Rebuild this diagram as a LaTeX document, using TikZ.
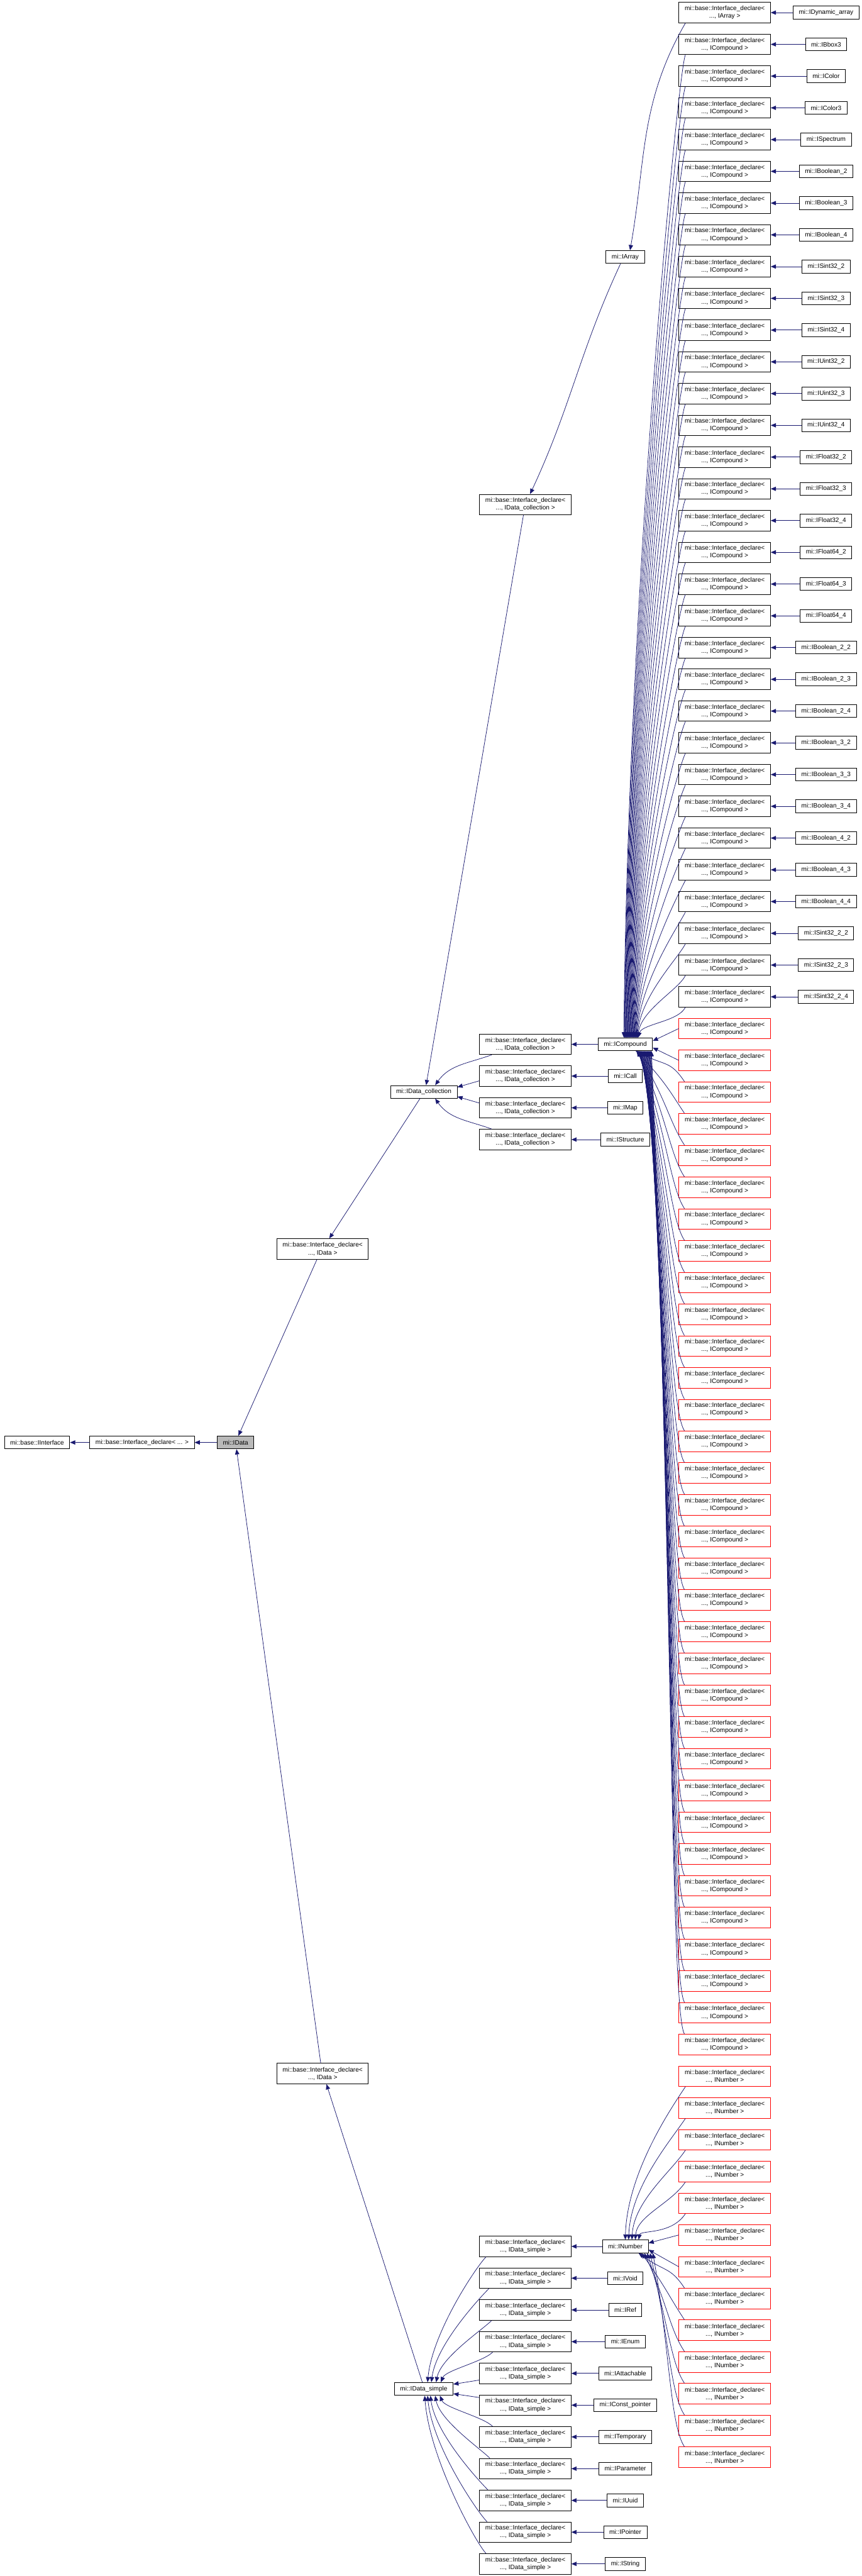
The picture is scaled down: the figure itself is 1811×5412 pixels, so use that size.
\documentclass[tikz,border=0pt]{standalone}
\usepackage{fontspec}
\setmainfont{Liberation Sans}
\usetikzlibrary{arrows.meta,positioning}
\definecolor{edgeblue}{HTML}{191970}
% one unit = one pixel of the graph, drawn at a tenth of a point
\tikzset{
  cls/.style={draw=black,line width=0.12pt,inner xsep=1.2pt,inner ysep=0pt,
    minimum height=2.7pt,font=\fontsize{1.33}{1.6}\selectfont,align=center},
  tmpl/.style={cls,minimum height=4.3pt},
  undoc/.style={tmpl,draw=red},
  inh/.style={edgeblue,line width=0.1pt,-{Triangle[length=1.1pt,width=0.9pt]}},
}
\newcommand{\decl}[1]{mi::base::Interface\_declare<\\..., #1 >}

\begin{document}
\begin{tikzpicture}[x=0.1pt,y=0.1pt]
  \useasboundingbox (0,0) rectangle (1811,-5412);

  % base chain
  \node[cls] (iface) at (78,-3030.5) {mi::base::IInterface};
  \node[cls] (decl) at (298.5,-3030.5) {mi::base::Interface\_declare< ... >};
  \node[cls,fill=gray!55] (idata) at (495,-3030.5) {mi::IData};
  \node[tmpl] (dA) at (678,-2624) {\decl{IData}};
  \node[tmpl] (dB) at (678,-4356.5) {\decl{IData}};
  \node[cls] (idc) at (890.5,-2294) {mi::IData\_collection};
  \node[cls] (ids) at (890.5,-5019) {mi::IData\_simple};
  \node[tmpl] (dcA) at (1104,-1060) {\decl{IData\_collection}};
  \node[cls] (iarray) at (1314,-540) {mi::IArray};

  \draw[inh] (decl) -- (iface);
  \draw[inh] (idata) -- (decl);
  \draw[inh] ([shift={(-12,0)}]dA.south) -- ([shift={(6,0)}]idata.north);
  \draw[inh] ([shift={(-4,0)}]dB.north) -- ([shift={(2,0)}]idata.south);
  \draw[inh] ([shift={(-8,0)}]idc.south) -- ([shift={(14,0)}]dA.north);
  \draw[inh] ([shift={(-3,0)}]ids.north) -- ([shift={(8,0)}]dB.south);
  \draw[inh] ([shift={(-4,0)}]dcA.south) -- ([shift={(5,0)}]idc.north);
  \draw[inh] ([shift={(-10,0)}]iarray.south) to[out=-115,in=65] ([shift={(10,0)}]dcA.north);

  % IData_collection side
  \foreach \lbl/\nm [count=\k from 0] in {ICompound/icompound,ICall/icall,IMap/imap,IStructure/istructure}{
    \node[tmpl] (dc\k) at (1104,{-2194-66.7*\k}) {\decl{IData\_collection}};
    \node[cls] (\nm) at (1314,{-2194-66.7*\k}) {mi::\lbl};
    \draw[inh] (\nm) -- (dc\k);
  }
  \draw[inh] ([shift={(26,0)}]dc0.south west) to[out=-160,in=55] ([shift={(24,0)}]idc.north);
  \draw[inh] ([shift={(0,-10)}]dc1.west) -- ([shift={(0,10)}]idc.east);
  \draw[inh] ([shift={(0,10)}]dc2.west) -- ([shift={(0,-10)}]idc.east);
  \draw[inh] ([shift={(26,0)}]dc3.north west) to[out=160,in=-55] ([shift={(24,0)}]idc.south);

  % IData_simple side
  \foreach \lbl/\nm [count=\k from 0] in {INumber/inumber,IVoid/ivoid,IRef/iref,IEnum/ienum,
      IAttachable/iattach,IConst\_pointer/iconst,ITemporary/itemp,IParameter/iparam,
      IUuid/iuuid,IPointer/ipointer,IString/istring}{
    \node[tmpl] (ds\k) at (1104,{-4719.5-66.7*\k}) {\decl{IData\_simple}};
    \node[cls] (\nm) at (1314,{-4719.5-66.7*\k}) {mi::\lbl};
    \draw[inh] (\nm) -- (ds\k);
  }
  \foreach \k/\sx/\dx in {0/14/8,1/20/16,2/26/26,3/28/36}{
    \pgfmathsetmacro\cx{900.5+\dx}
    \pgfmathsetmacro\cy{-5005.5+0.4*(5005.5-4741-66.7*\k)}
    \draw[inh] ([shift={(\sx,0)}]ds\k.south west) .. controls +(-20,-20) and (\cx,\cy) .. ([shift={(\dx,0)}]ids.north);
  }
  \draw[inh] ([shift={(0,-14)}]ds4.west) -- ([shift={(0,10)}]ids.east);
  \draw[inh] ([shift={(0,16)}]ds5.west) -- ([shift={(0,-10)}]ids.east);
  \foreach \k/\sx/\dx in {6/28/34,7/22/24,8/18/14,9/16/8,10/14/2}{
    \pgfmathsetmacro\cx{900.5+\dx}
    \pgfmathsetmacro\cy{-5032.5-0.4*(4698+66.7*\k-5032.5)}
    \draw[inh] ([shift={(\sx,0)}]ds\k.north west) .. controls +(-20,20) and (\cx,\cy) .. ([shift={(\dx,0)}]ids.south);
  }

  % right column: templates and leaves
  \foreach \lbl [count=\i from 0] in {IDynamic\_array,IBbox3,IColor,IColor3,ISpectrum,
      IBoolean\_2,IBoolean\_3,IBoolean\_4,ISint32\_2,ISint32\_3,ISint32\_4,
      IUint32\_2,IUint32\_3,IUint32\_4,IFloat32\_2,IFloat32\_3,IFloat32\_4,
      IFloat64\_2,IFloat64\_3,IFloat64\_4,IBoolean\_2\_2,IBoolean\_2\_3,IBoolean\_2\_4,
      IBoolean\_3\_2,IBoolean\_3\_3,IBoolean\_3\_4,IBoolean\_4\_2,IBoolean\_4\_3,IBoolean\_4\_4,
      ISint32\_2\_2,ISint32\_2\_3,ISint32\_2\_4}{
    \node[cls] (leaf\i) at (1736,{-26.5-66.7*\i}) {mi::\lbl};
  }
  \node[tmpl] (r0) at (1523,-26.5) {\decl{IArray}};
  \foreach \i in {1,...,31}
    \node[tmpl] (r\i) at (1523,{-26.5-66.7*\i}) {\decl{ICompound}};
  \foreach \i in {32,...,64}
    \node[undoc] (r\i) at (1523,{-26.5-66.7*\i}) {\decl{ICompound}};
  \foreach \i in {65,...,77}
    \node[undoc] (r\i) at (1523,{-26.5-66.7*\i}) {\decl{INumber}};
  \foreach \i in {0,...,31}
    \draw[inh] (leaf\i) -- (r\i);

  % edges into IArray, ICompound, INumber
  \draw[inh] ([shift={(14,0)}]r0.south west) to[out=-120,in=80] ([shift={(10,0)}]iarray.north);
  \foreach \i in {1,...,31}{
    \pgfmathsetmacro\dx{-4+\i}
    \pgfmathsetmacro\cx{1322+\dx}
    \pgfmathsetmacro\cy{-2180.5+0.45*(2180.5-48-66.7*\i)}
    \draw[inh] ([shift={(14,0)}]r\i.south west) .. controls +(-15,-30) and (\cx,\cy) .. ([shift={(\dx,0)}]icompound.north);
  }
  \draw[inh] (r32.west) -- ([shift={(0,7)}]icompound.east);
  \draw[inh] (r33.west) -- ([shift={(0,-7)}]icompound.east);
  \foreach \i in {34,...,64}{
    \pgfmathsetmacro\dx{22+(\i-34)*1.1}
    \pgfmathsetmacro\cx{1398+(\i-34)*0.5}
    \pgfmathsetmacro\cy{-2207.5-0.5*(5+66.7*\i-2207.5)}
    \draw[inh] ([shift={(12,0)}]r\i.north west) .. controls +(-30,45) and (\cx,\cy) .. ([shift={(\dx,0)}]icompound.south);
  }
  \foreach \i in {65,...,69}{
    \pgfmathsetmacro\dx{(\i-65)*7}
    \pgfmathsetmacro\cx{1318+\dx}
    \pgfmathsetmacro\cy{-4713+0.45*(4713-48-66.7*\i)}
    \draw[inh] ([shift={(14,0)}]r\i.south west) .. controls +(-30,-45) and (\cx,\cy) .. ([shift={(\dx,0)}]inumber.north);
  }
  \draw[inh] (r70.west) -- ([shift={(0,7)}]inumber.east);
  \draw[inh] (r71.west) -- ([shift={(0,-7)}]inumber.east);
  \foreach \i in {72,...,77}{
    \pgfmathsetmacro\dx{28+(\i-72)*6}
    \pgfmathsetmacro\cx{1398+(\i-72)*2}
    \pgfmathsetmacro\cy{-4740-0.5*(5+66.7*\i-4740)}
    \draw[inh] ([shift={(12,0)}]r\i.north west) .. controls +(-30,45) and (\cx,\cy) .. ([shift={(\dx,0)}]inumber.south);
  }
\end{tikzpicture}
\end{document}
